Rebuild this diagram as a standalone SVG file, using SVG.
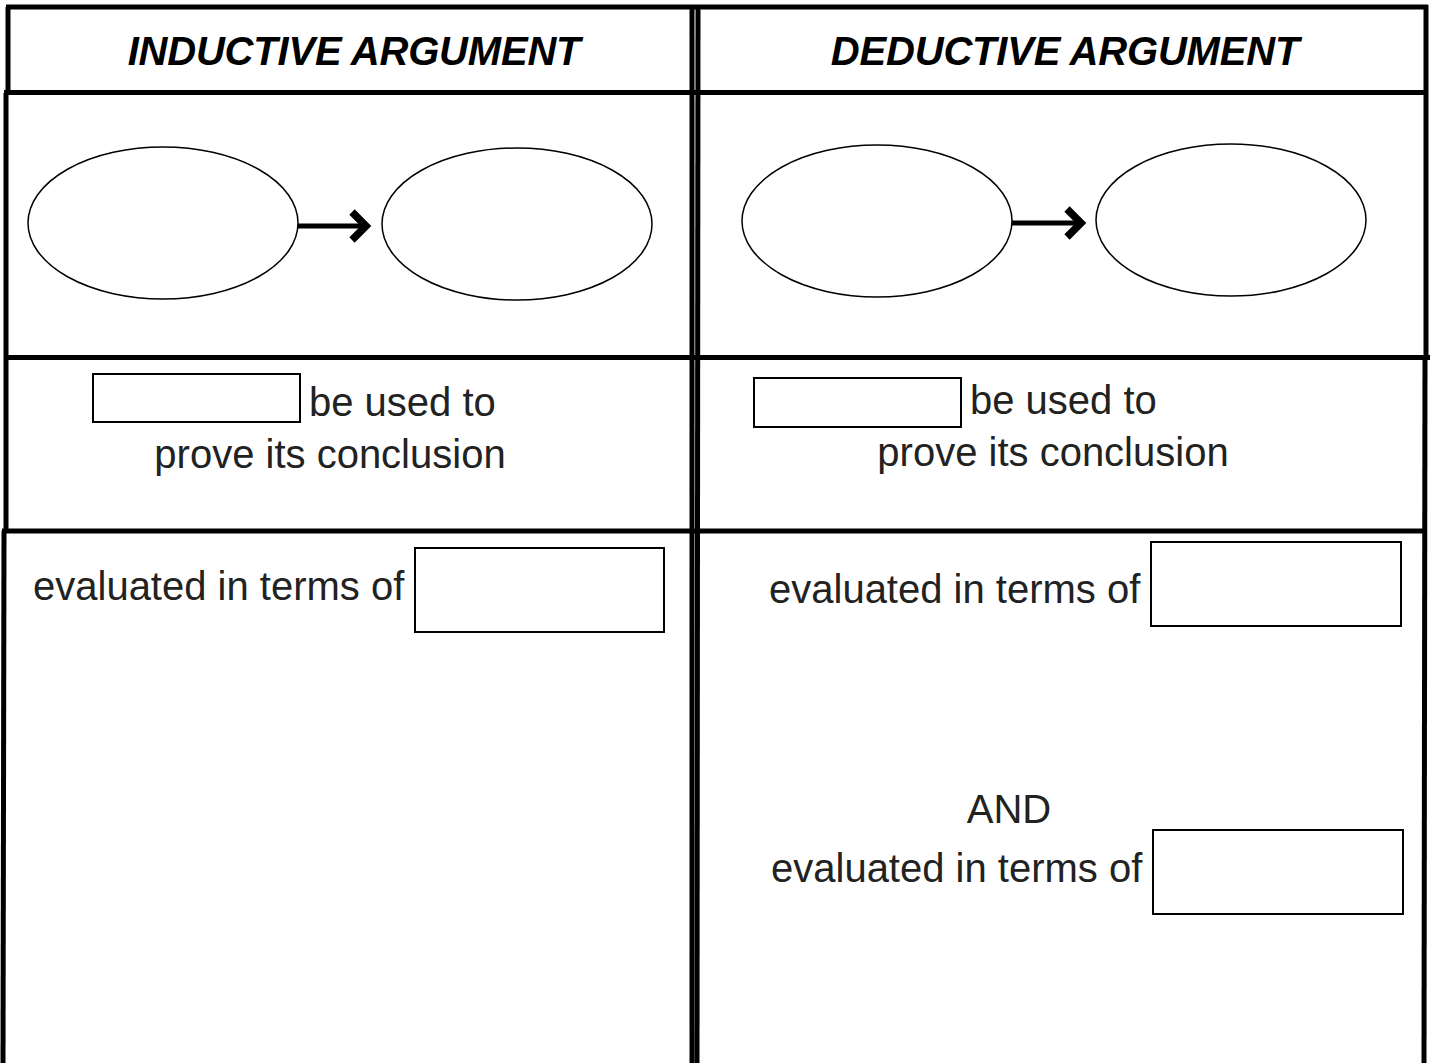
<svg xmlns="http://www.w3.org/2000/svg" width="1432" height="1063" viewBox="0 0 1432 1063">
<style>
.border{stroke:#000;stroke-width:5;fill:none}
.ell{stroke:#000;stroke-width:1.5;fill:#fff}
.box{stroke:#000;stroke-width:2;fill:#fff}
.hdr{font-family:"Liberation Sans",Arial,sans-serif;font-weight:bold;font-style:italic;font-size:40px;fill:#000;letter-spacing:-0.2px}
.txt{font-family:"Liberation Sans",Arial,sans-serif;font-size:40px;fill:#222}
.arrow{stroke:#000;stroke-width:5;fill:none}
.head{stroke:#000;stroke-width:7.5;fill:none;stroke-linejoin:miter}
</style>
<rect width="1432" height="1063" fill="#fff"/>
<g id="grid">
<line class="border" x1="6" y1="7" x2="1428" y2="7"/>
<line class="border" x1="8" y1="7" x2="8" y2="93"/>
<line class="border" x1="6" y1="93" x2="6" y2="531"/>
<line class="border" x1="4" y1="531" x2="3" y2="1063"/>
<line class="border" x1="1426" y1="5" x2="1426" y2="357"/>
<line class="border" x1="1425" y1="357" x2="1424" y2="1063"/>
<line class="border" x1="692" y1="7" x2="692" y2="1063"/>
<line class="border" x1="698" y1="7" x2="697" y2="1063"/>
<line class="border" x1="4" y1="92.5" x2="1428" y2="92.5"/>
<line class="border" x1="4" y1="357.5" x2="1430" y2="357.5"/>
<line class="border" x1="2" y1="531" x2="1426" y2="531"/>
</g>
<g id="header-inductive"><text class="hdr" x="354" y="65" text-anchor="middle">INDUCTIVE ARGUMENT</text></g>
<g id="header-deductive"><text class="hdr" x="1065" y="65" text-anchor="middle">DEDUCTIVE ARGUMENT</text></g>
<g id="ind-premise"><ellipse class="ell" cx="163" cy="223" rx="135" ry="76"/></g>
<g id="ind-conclusion"><ellipse class="ell" cx="517" cy="224" rx="135" ry="76"/></g>
<g id="ded-premise"><ellipse class="ell" cx="877" cy="221" rx="135" ry="76"/></g>
<g id="ded-conclusion"><ellipse class="ell" cx="1231" cy="220" rx="135" ry="76"/></g>
<g id="connectors">
<line class="arrow" x1="298" y1="226" x2="364" y2="226"/>
<polyline class="head" points="352,212 366,226 352,240"/>
<line class="arrow" x1="1012" y1="223" x2="1079" y2="223"/>
<polyline class="head" points="1067,209 1081,223 1067,237"/>
</g>
<g id="ind-use">
<rect class="box" x="93" y="374" width="207" height="48"/>
<text class="txt" x="309" y="416">be used to</text>
<text class="txt" x="330" y="468" text-anchor="middle">prove its conclusion</text>
</g>
<g id="ded-use">
<rect class="box" x="754" y="378" width="207" height="49"/>
<text class="txt" x="970" y="414">be used to</text>
<text class="txt" x="1053" y="466" text-anchor="middle">prove its conclusion</text>
</g>
<g id="ind-eval">
<text class="txt" x="33" y="600">evaluated in terms of</text>
<rect class="box" x="415" y="548" width="249" height="84"/>
</g>
<g id="ded-eval1">
<text class="txt" x="769" y="603">evaluated in terms of</text>
<rect class="box" x="1151" y="542" width="250" height="84"/>
</g>
<g id="ded-eval2">
<text class="txt" x="1009" y="823" text-anchor="middle">AND</text>
<text class="txt" x="771" y="882">evaluated in terms of</text>
<rect class="box" x="1153" y="830" width="250" height="84"/>
</g>
</svg>
